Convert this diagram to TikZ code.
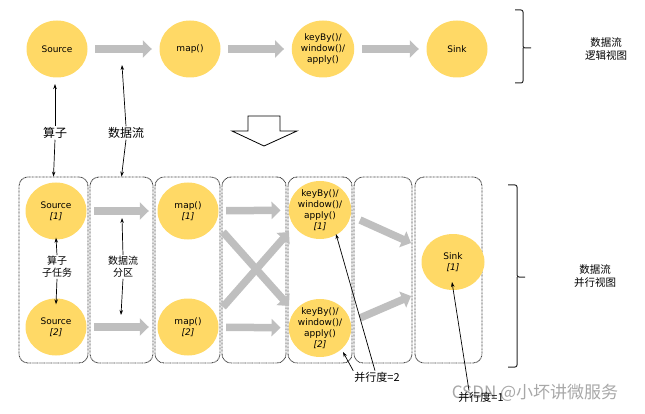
\documentclass[tikz,border=0pt]{standalone}
\usepackage{fontspec}
\setmainfont{DejaVu Sans}
\newfontfamily\cjk{Noto Sans CJK SC}
\usetikzlibrary{shapes.geometric,arrows.meta}
\definecolor{opyellow}{HTML}{FFD966}
\definecolor{arrowgray}{HTML}{BFBFBF}
\definecolor{boxgray}{HTML}{404040}
\definecolor{wmgray}{HTML}{A8A8A8}
\tikzset{
  op/.style={ellipse, fill=opyellow, minimum width=61pt, minimum height=57pt, inner sep=0pt, align=center, font=\fontsize{9}{11}\selectfont},
  garrow/.style={draw=arrowgray, line width=7.5pt, -{Triangle[length=9pt,width=17pt]}},
  pbox/.style={draw=boxgray, line width=0.9pt, dash pattern=on 0.8pt off 0.6pt, rounded corners=9pt, inner sep=0pt},
  ann/.style={draw=black, line width=0.7pt, -{Stealth[length=5pt,width=3.5pt]}},
  lbl/.style={font=\cjk\fontsize{12}{14}\selectfont, align=center, inner sep=1pt},
  slbl/.style={font=\cjk\fontsize{10}{12}\selectfont, align=center, inner sep=1pt},
  brace/.style={draw=black!85, line width=1pt, rounded corners=2pt},
}
\begin{document}
\begin{tikzpicture}[x=1pt,y=-1pt]
\useasboundingbox (0,0) rectangle (645,414);

% ---- logical view ----
\node[op] (src) at (57,49) {Source};
\node[op] (map) at (190,49) {map()};
\node[op] (kb) at (323,49) {keyBy()/\\window()/\\apply()};
\node[op] (sink) at (457,49) {Sink};
\draw[garrow, shorten <=7.5pt, shorten >=7.5pt] (src) -- (map);
\draw[garrow, shorten <=7.5pt, shorten >=7.5pt] (map) -- (kb);
\draw[garrow, shorten <=7.5pt, shorten >=7.5pt] (kb) -- (sink);

\draw[brace] (515,10) -- (523,10) -- (523,48) -- (531,48) (523,48) -- (523,83) -- (515,83);
\node[lbl, font=\cjk\fontsize{10.5}{13}\selectfont] (lv) at (606,49) {数据流\\逻辑视图};

% ---- labels between ----
\node[lbl] (t1) at (55,133) {算子};
\node[lbl] (t2) at (126,133) {数据流};
\coordinate (srcb) at (55,84);
\coordinate (flowt) at (122,65);
\draw[ann] (t1.north) -- (srcb);
\draw[ann] (t2.north) -- (flowt);

% big hollow arrow
\draw[line width=0.8pt, fill=white] (248,116) -- (280,116) -- (280,131) -- (297,131) -- (264,146) -- (232,131) -- (248,131) -- cycle;

% ---- parallel view boxes ----
\node[pbox, minimum width=69pt, minimum height=186pt] (b1) at (53.5,270) {};
\node[pbox, minimum width=63pt, minimum height=186pt] (b2) at (121.5,270) {};
\node[pbox, minimum width=65pt, minimum height=186pt] (b3) at (187.5,270) {};
\node[pbox, minimum width=64pt, minimum height=186pt] (b4) at (254,270) {};
\node[pbox, minimum width=64pt, minimum height=186pt] (b5) at (320,270) {};
\node[pbox, minimum width=58pt, minimum height=186pt] (b6) at (383,270) {};
\node[pbox, minimum width=67pt, minimum height=186pt] (b7) at (448.5,270) {};

\draw[ann] (t1.south) -- (b1.north);
\draw[ann] (t2.south) -- (b2.north);

\node[op] (s1) at (56,211) {Source\\\textit{[1]}};
\node[op] (s2) at (56,327) {Source\\\textit{[2]}};
\node[op] (m1) at (188,211) {map()\\\textit{[1]}};
\node[op] (m2) at (188,327) {map()\\\textit{[2]}};
\node[op, minimum width=60pt, minimum height=58pt] (k1) at (320,210) {keyBy()/\\window()/\\apply()\\\textit{[1]}};
\node[op, minimum width=60pt, minimum height=58pt] (k2) at (320,328) {keyBy()/\\window()/\\apply()\\\textit{[2]}};
\node[op, minimum width=63pt, minimum height=56pt] (sk) at (453,262) {Sink\\\textit{[1]}};

\draw[garrow, shorten <=7.5pt, shorten >=8.5pt] (s1) -- (m1);
\draw[garrow, shorten <=7.5pt, shorten >=8.5pt] (s2) -- (m2);
\draw[garrow, shorten <=7.5pt, shorten >=8pt] (m1) -- (k1);
\draw[garrow, shorten <=7.5pt, shorten >=8pt] (m2) -- (k2);

\coordinate (xa1) at (223,232);
\coordinate (xa2) at (289,306);
\coordinate (xb1) at (223,307);
\coordinate (xb2) at (289,232);
\draw[garrow] (xa1) -- (xa2);
\draw[garrow] (xb1) -- (xb2);

\coordinate (ka1) at (360,220);
\coordinate (ka2) at (411,243);
\coordinate (kb1) at (360,318);
\coordinate (kb2) at (411,296);
\draw[garrow] (ka1) -- (ka2);
\draw[garrow] (kb1) -- (kb2);

% lower annotations
\node[slbl] (t3) at (57,267) {算子\\子任务};
\draw[ann] (t3.north) -- ([yshift=2pt]s1.south);
\draw[ann] (t3.south) -- ([yshift=-6pt]s2.north);
\node[slbl] (t4) at (123,267) {数据流\\分区};
\coordinate (pt1) at (122,218);
\coordinate (pt2) at (121,315);
\draw[ann] (t4.north) -- (pt1);
\draw[ann] (t4.south) -- (pt2);

\node[lbl, font=\cjk\fontsize{11}{13}\selectfont] (t5) at (377,377) {并行度=2};
\coordinate (pk1) at (336,234);
\coordinate (pk2) at (343,352);
\draw[ann] ([xshift=-2pt]t5.north) -- (pk1);
\draw[ann] (t5.north west) -- (pk2);

\draw[brace] (508,185) -- (517,185) -- (517,277) -- (525,277) (517,277) -- (517,367) -- (508,367);
\node[lbl, font=\cjk\fontsize{10.5}{13}\selectfont] (pv) at (595,276) {数据流\\并行视图};

% watermark
\node[font=\cjk\fontsize{17}{19}\selectfont, text=wmgray, inner sep=0pt] (wm) at (535,393) {CSDN @小坏讲微服务};
\node[lbl, font=\cjk\fontsize{11}{13}\selectfont] (t6) at (481,397) {并行度=1};
\coordinate (psk) at (452,282);
\draw[ann] ([xshift=-12pt]t6.north) -- (psk);
\end{tikzpicture}
\end{document}
